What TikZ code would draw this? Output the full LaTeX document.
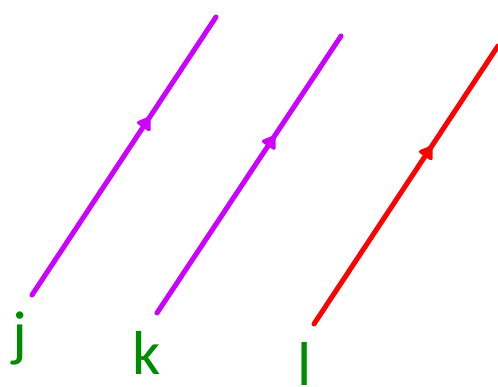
\documentclass[tikz,border=0pt]{standalone}
\usepackage{fontspec}
\setmainfont{Carlito}
\usetikzlibrary{arrows.meta,decorations.markings}
\definecolor{vecpurple}{RGB}{204,0,255}
\definecolor{vecred}{RGB}{255,0,0}
\definecolor{labgreen}{RGB}{0,140,0}
\tikzset{
  vec/.style={line width=5pt, line cap=round,
    postaction={decorate},
    decoration={markings, mark=at position 0.64 with {\arrow{Triangle[length=14pt,width=18pt,round]}}}},
  lab/.style={text=labgreen, font=\fontsize{62}{62}\selectfont, inner sep=0pt, anchor=base}
}
\begin{document}
\begin{tikzpicture}[x=1pt,y=-1pt]
\useasboundingbox (0,0) rectangle (498,387);
\coordinate (j0) at (32,295);
\coordinate (j1) at (216,17);
\coordinate (k0) at (157,313);
\coordinate (k1) at (341,36);
\coordinate (l0) at (314,324);
\coordinate (l1) at (498,46);
\draw[vec, vecpurple] (j0) -- (j1);
\draw[vec, vecpurple] (k0) -- (k1);
\begin{scope}
\clip (0,0) rectangle (498,387);
\draw[vec, vecred] (l0) -- (l1);
\end{scope}
\node[lab] (jl) at (20,355) {j};
\node[lab] (kl) at (147,374) {k};
\node[lab] (ll) at (305,385) {l};
\end{tikzpicture}
\end{document}
